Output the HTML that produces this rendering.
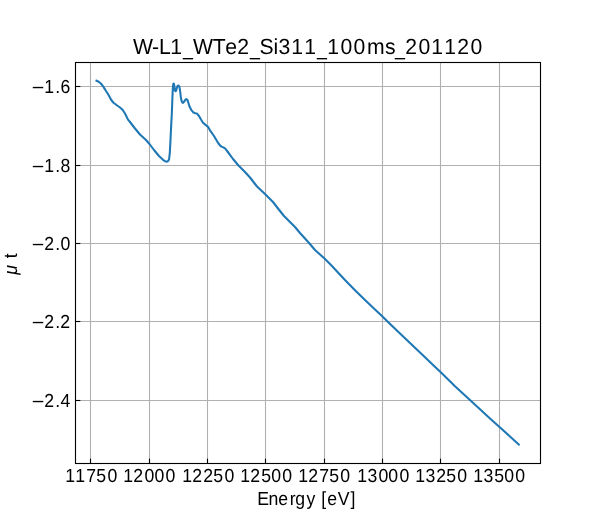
<!DOCTYPE html>
<html><head><meta charset="utf-8"><title>W-L1_WTe2_Si311_100ms_201120</title>
<style>
html,body{margin:0;padding:0;background:#fff;}
body{width:600px;height:520px;overflow:hidden;}
svg{display:block;will-change:transform;}
text{font-family:"Liberation Sans",sans-serif;fill:#000;text-rendering:geometricPrecision;}
</style></head><body>
<svg width="600" height="520" viewBox="0 0 600 520">
<rect x="0" y="0" width="600" height="520" fill="#ffffff"/>
<g stroke="#b0b0b0" stroke-width="1.11" fill="none">
<line x1="90.5" y1="62.5" x2="90.5" y2="463.5"/>
<line x1="149.5" y1="62.5" x2="149.5" y2="463.5"/>
<line x1="207.5" y1="62.5" x2="207.5" y2="463.5"/>
<line x1="265.5" y1="62.5" x2="265.5" y2="463.5"/>
<line x1="324.5" y1="62.5" x2="324.5" y2="463.5"/>
<line x1="382.5" y1="62.5" x2="382.5" y2="463.5"/>
<line x1="440.5" y1="62.5" x2="440.5" y2="463.5"/>
<line x1="499.5" y1="62.5" x2="499.5" y2="463.5"/>
<line x1="75.5" y1="86.5" x2="540.5" y2="86.5"/>
<line x1="75.5" y1="165.5" x2="540.5" y2="165.5"/>
<line x1="75.5" y1="243.5" x2="540.5" y2="243.5"/>
<line x1="75.5" y1="321.5" x2="540.5" y2="321.5"/>
<line x1="75.5" y1="400.5" x2="540.5" y2="400.5"/>
</g>
<path d="M96.5,80.7 L97.6,81.2 L99,82 L100.3,83 L101.5,84.25 L102.6,85.6 L103.5,87 L104.7,88.9 L106,91 L107.5,93.3 L109,95.7 L111.25,100 L113.5,102.75 L116.5,105 L120,107.5 L122.75,110 L125,113.5 L128,119.6 L130,122 L135,128.5 L140,134.5 L146,140 L149.5,144 L154,150 L159,156 L163,159.8 L165,161.2 L166.3,161.6 L167.5,161.5 L168.5,160.6 L169.1,159 L169.8,153 L170.5,140 L171.1,127 L171.9,112 L172.4,98 L172.8,89 L173.2,84.4 L173.55,83.6 L173.9,83.7 L174.3,85.8 L174.9,90.6 L175.5,91.2 L176.1,90.8 L176.8,88 L177.8,85.7 L178.6,85.6 L179.4,86.6 L180.1,91 L181,98.5 L181.9,101.8 L182.8,102.9 L184,101.8 L185.2,100.1 L186.3,99.1 L187.4,99.8 L188.4,102.8 L189.5,106.5 L191.2,109.8 L193.5,112.6 L195.3,113.2 L197,113.6 L199,116 L201,119.5 L203,122.8 L205.5,124.9 L208,126.8 L210,130.3 L214,136 L216.5,140.2 L218.5,143.5 L220,145.4 L221.5,146.6 L223.3,147.4 L225,148.4 L226.2,149.8 L227.5,151.5 L233,159 L238.5,165.5 L245,172 L250,177.5 L253.5,182 L257,186.5 L261,190.2 L265.5,194.5 L270,199 L273,202 L278,208.5 L284,216 L290,222 L295,227 L300,233 L309.5,243.5 L315,250 L324.5,258.5 L331,265 L337.5,272 L345,280 L355,290.2 L365,300 L375,309.5 L382.5,316.5 L387.5,321.5 L400,333.5 L410,343 L420,352.5 L431.5,363.5 L440.5,372 L455,386.2 L470.5,400.5 L480,409.2 L490,418.5 L499.5,427 L510,436.5 L518.8,444.6" fill="none" stroke="#1f77b4" stroke-width="2.08" stroke-linejoin="round" stroke-linecap="square"/>
<g stroke="#000" stroke-width="1.11" fill="none">
<line x1="90.5" y1="463.5" x2="90.5" y2="458.64"/>
<line x1="149.5" y1="463.5" x2="149.5" y2="458.64"/>
<line x1="207.5" y1="463.5" x2="207.5" y2="458.64"/>
<line x1="265.5" y1="463.5" x2="265.5" y2="458.64"/>
<line x1="324.5" y1="463.5" x2="324.5" y2="458.64"/>
<line x1="382.5" y1="463.5" x2="382.5" y2="458.64"/>
<line x1="440.5" y1="463.5" x2="440.5" y2="458.64"/>
<line x1="499.5" y1="463.5" x2="499.5" y2="458.64"/>
<line x1="75.5" y1="86.5" x2="80.36" y2="86.5"/>
<line x1="75.5" y1="165.5" x2="80.36" y2="165.5"/>
<line x1="75.5" y1="243.5" x2="80.36" y2="243.5"/>
<line x1="75.5" y1="321.5" x2="80.36" y2="321.5"/>
<line x1="75.5" y1="400.5" x2="80.36" y2="400.5"/>
</g>
<rect x="75.5" y="62.5" width="465.0" height="401.0" fill="none" stroke="#000" stroke-width="1.11"/>
<g>
<text transform="scale(0.9346,1)" x="69.86 80.56 92.39 103.06 114.9" y="482" font-size="18.9" xml:space="preserve">11750</text>
<text transform="scale(0.9346,1)" x="131.92 142.48 154.49 165.19 176.96" y="482" font-size="18.9" xml:space="preserve">12000</text>
<text transform="scale(0.9346,1)" x="195.05 205.61 217.38 228.25 240.08" y="482" font-size="18.9" xml:space="preserve">12250</text>
<text transform="scale(0.9346,1)" x="257.11 267.67 279.6 290.37 302.14" y="482" font-size="18.9" xml:space="preserve">12500</text>
<text transform="scale(0.9346,1)" x="319.16 329.72 341.69 352.36 364.2" y="482" font-size="18.9" xml:space="preserve">12750</text>
<text transform="scale(0.9346,1)" x="382.29 393.11 404.86 415.56 427.33" y="482" font-size="18.9" xml:space="preserve">13000</text>
<text transform="scale(0.9346,1)" x="444.35 455.17 466.68 477.54 489.38" y="482" font-size="18.9" xml:space="preserve">13250</text>
<text transform="scale(0.9346,1)" x="506.4 517.23 528.9 539.67 551.44" y="482" font-size="18.9" xml:space="preserve">13500</text>
</g>
<g>
<text transform="translate(31.71,94.36) scale(1.1365,1.0270)" font-size="18.9">−</text>
<text transform="scale(0.9346,1)" x="47.39 59.05 64.61" y="93" font-size="18.9" xml:space="preserve">1.6</text>
<text transform="translate(31.71,173.36) scale(1.1365,1.0270)" font-size="18.9">−</text>
<text transform="scale(0.9346,1)" x="47.39 59.05 64.61" y="172" font-size="18.9" xml:space="preserve">1.8</text>
<text transform="translate(31.71,251.36) scale(1.1365,1.0270)" font-size="18.9">−</text>
<text transform="scale(0.9346,1)" x="47.26 59.05 64.61" y="250" font-size="18.9" xml:space="preserve">2.0</text>
<text transform="translate(31.71,329.36) scale(1.1365,1.0270)" font-size="18.9">−</text>
<text transform="scale(0.9346,1)" x="47.26 59.05 64.38" y="328" font-size="18.9" xml:space="preserve">2.2</text>
<text transform="translate(31.71,408.36) scale(1.1365,1.0270)" font-size="18.9">−</text>
<text transform="scale(0.9346,1)" x="47.26 59.05 64.61" y="407" font-size="18.9" xml:space="preserve">2.4</text>
</g>
<text transform="translate(183.07,54.97) scale(0.8181,1.0090)" font-size="21.8">_</text>
<text transform="translate(250.07,54.97) scale(0.8181,1.0090)" font-size="21.8">_</text>
<text transform="translate(317.07,54.97) scale(0.8181,1.0090)" font-size="21.8">_</text>
<text transform="translate(395.07,54.97) scale(0.8181,1.0090)" font-size="21.8">_</text>
<text transform="scale(0.9720,1)" x="136.71 156.46 163.67 175.26 198.44 218.77 231.79 244.03 266.86 281.31 286.51 299.75 313.12 336.78 350.27 363.64 377.54 396.14 416.87 430.52 443.78 457.15 470.37 484.01" y="54" font-size="21.8" xml:space="preserve">W-L1WTe2Si311100ms201120</text>
<text transform="scale(0.9346,1)" x="275.32 287.18 297.71 310.08 315.94 327.95 338.11 343.61 350.14 361.44 374.97" y="505" font-size="18.9" xml:space="preserve">Energy [eV]</text>
<g transform="translate(17,275) rotate(-90)">
<text transform="scale(0.9346,1)" x="0.33" y="0" font-size="18.9" font-style="italic" xml:space="preserve">μ</text>
<text transform="scale(0.9346,1)" x="11.5 17.94" y="0" font-size="18.9" xml:space="preserve"> t</text>
</g>
</svg></body></html>
